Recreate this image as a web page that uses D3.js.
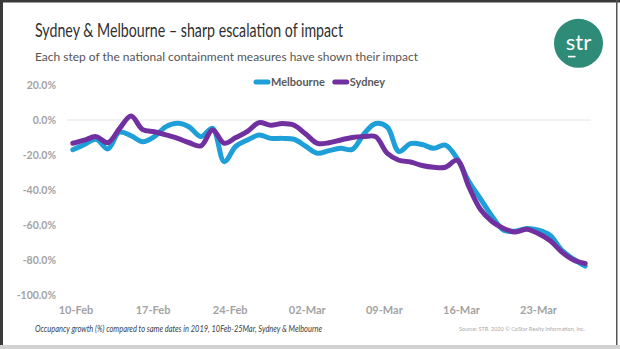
<!DOCTYPE html>
<html>
<head>
<meta charset="utf-8">
<script src="https://cdnjs.cloudflare.com/ajax/libs/d3/7.8.5/d3.min.js"></script>
<style>
    html, body { margin: 0; padding: 0; background: #fff; }
    svg { display: block; font-family: Lato, 'Noto Sans', sans-serif; }
</style>
</head>
<body>
<svg id="chart"></svg>
<script>

// occupancy growth vs same day 2019, daily from 10-Feb to 25-Mar
var melbourne = [-17, -14, -11, -16.5, -7, -9, -12.4, -9.5, -3.8, -1.9, -4, -9.5, -4.8, -23.8, -15,
    -11.4, -8.6, -10.5, -10.5, -11, -15, -19, -17.5, -16.2, -16.8, -8, -2, -4, -18, -13.5,
    -14, -16.2, -14.3, -22, -35, -45, -55, -63, -63.5, -62, -63, -66, -74.5, -79.5, -83.5];

var sydney = [-13.3, -11.5, -9.5, -13, -5, 2.3, -5.5, -6.7, -8.5, -10.5, -13, -14.8, -5.7, -13.3, -10,
    -6.5, -1.5, -3, -2, -3, -8, -13.3, -13, -11.4, -10, -9.5, -9.5, -19, -23, -24,
    -26, -27, -27, -23, -38, -51, -58, -62, -64, -62.5, -65, -69, -75.5, -80, -82];

var seriesNames = ['Melbourne', 'Sydney'];
var seriesColors = ['#1e9fd8', '#7030a0'];
var yTicks = [20, 0, -20, -40, -60, -80, -100];
var xTickLabels = ['10-Feb', '17-Feb', '24-Feb', '02-Mar', '09-Mar', '16-Mar', '23-Mar'];

var title = 'Sydney & Melbourne \u2013 sharp escalation of impact';
var subtitle = 'Each step of the national containment measures have shown their impact';
var footnote = 'Occupancy growth (%) compared to same dates in 2019, 10Feb-25Mar, Sydney & Melbourne';
var source = 'Source: STR. 2020 \u00a9 CoStar Realty Information, Inc.';

function occupancyChart() {

    var _width = 620,
        _height = 349;

    var margin = {
        top: 85,
        right: 29,
        bottom: 54,
        left: 67
    };

    var x, xLabel, y;

    var fitText = function (sel, width) {
        sel.attr('textLength', width)
            .attr('lengthAdjust', 'spacingAndGlyphs');
    }

    function chart(selection) {
        selection.each(function (series) {
            var svg = d3.select(this)
                .attr('width', _width)
                .attr('height', _height);

            var plotWidth = _width - margin.left - margin.right,
                plotHeight = _height - margin.top - margin.bottom;

            // slide frame
            svg.append('rect')
                .attr('width', _width)
                .attr('height', _height)
                .style('fill', '#fff');
            svg.append('rect')
                .attr('width', 3).attr('height', _height)
                .style('fill', '#3a3a3a');
            svg.append('rect')
                .attr('width', _width).attr('height', 2.5)
                .style('fill', '#3a3a3a');
            svg.append('rect')
                .attr('x', 616).attr('width', 1.5).attr('height', _height)
                .style('fill', '#555');
            svg.append('rect')
                .attr('y', 345).attr('width', _width).attr('height', 4)
                .style('fill', '#d2d2d2');

            // heading
            svg.append('text')
                .attr('x', 35).attr('y', 37)
                .style('font-size', '18.5px')
                .style('fill', '#303030')
                .text(title)
                .call(fitText, 308);

            svg.append('text')
                .attr('x', 35).attr('y', 61)
                .style('font-size', '12px')
                .style('fill', '#555')
                .text(subtitle)
                .call(fitText, 383);

            // str badge
            var logo = svg.append('g')
                .attr('transform', 'translate(578.5,43.3)');
            logo.append('circle')
                .attr('r', 24.5)
                .style('fill', '#2d8b78');
            logo.append('text')
                .attr('y', 7)
                .attr('text-anchor', 'middle')
                .style('font-size', '22px')
                .style('fill', '#fff')
                .text('str');
            logo.append('rect')
                .attr('x', -10.5).attr('y', 12.5)
                .attr('width', 7.5).attr('height', 1.6)
                .style('fill', '#fff');

            // one point per day for the lines
            x = d3.scalePoint()
                .domain(d3.range(series[0].values.length))
                .range([0, plotWidth])
                .padding(0.5);

            // weekly category labels sit on their own band
            xLabel = d3.scalePoint()
                .domain(xTickLabels)
                .range([8.5, 471]);

            y = d3.scaleLinear()
                .domain([-100, 20])
                .range([plotHeight, 0]);

            var container = svg.append('g')
                .attr('class', 'plot')
                .attr('transform', 'translate(' + margin.left + ',' + margin.top + ')');

            container.append('line')
                .attr('class', 'zero')
                .attr('x1', 0).attr('x2', plotWidth)
                .attr('y1', y(0)).attr('y2', y(0))
                .style('stroke', '#e4e4e4')
                .style('stroke-width', 1);

            var yAxis = d3.axisLeft(y)
                .tickValues(yTicks)
                .tickSize(0)
                .tickPadding(11)
                .tickFormat(function (d) {
                    return d.toFixed(1) + '%';
                });

            var xAxis = d3.axisBottom(xLabel)
                .tickSize(0)
                .tickPadding(11);

            container.append('g')
                .attr('class', 'y axis')
                .call(yAxis);

            container.append('g')
                .attr('class', 'x axis')
                .attr('transform', 'translate(0,' + plotHeight + ')')
                .call(xAxis);

            container.selectAll('.axis .domain').remove();
            container.selectAll('.axis text')
                .style('font-family', 'Lato, sans-serif')
                .style('font-size', '10.5px')
                .style('font-weight', 'bold')
                .style('fill', '#a3a3a3');
            container.selectAll('.x.axis text')
                .style('font-size', '11px');

            var line = d3.line()
                .x(function (d, i) { return x(i); })
                .y(function (d) { return y(d); })
                .curve(d3.curveCatmullRom.alpha(0.5));

            container.selectAll('.series')
                .data(series)
                .enter().append('path')
                .attr('class', 'series')
                .attr('d', function (d) { return line(d.values); })
                .style('fill', 'none')
                .style('stroke', function (d) { return d.color; })
                .style('stroke-width', 5)
                .style('stroke-linecap', 'round')
                .style('stroke-linejoin', 'round');

            // legend across the top of the plot
            var legend = svg.append('g')
                .attr('class', 'legend')
                .attr('transform', 'translate(255,82)');

            var offset = 0;
            series.forEach(function (s) {
                var item = legend.append('g')
                    .attr('transform', 'translate(' + offset + ',0)');
                item.append('line')
                    .attr('x1', 1).attr('x2', 13)
                    .style('stroke', s.color)
                    .style('stroke-width', 5)
                    .style('stroke-linecap', 'round');
                var label = item.append('text')
                    .attr('x', 16).attr('y', 4)
                    .style('font-size', '11px')
                    .style('font-weight', 'bold')
                    .style('fill', '#595959')
                    .text(s.name);
                offset += 16 + label.node().getComputedTextLength() + 9;
            });

            // footnote and source line
            svg.append('text')
                .attr('x', 35).attr('y', 332)
                .style('font-size', '9px')
                .style('font-style', 'italic')
                .style('fill', '#404040')
                .text(footnote)
                .call(fitText, 287);

            svg.append('text')
                .attr('x', 459).attr('y', 331)
                .style('font-size', '5px')
                .style('fill', '#aaa')
                .text(source)
                .call(fitText, 126);
        });
    }

    chart.width = function (value) {
        if (!arguments.length) {
            return _width;
        }
        _width = value;
        return chart;
    }

    chart.height = function (value) {
        if (!arguments.length) {
            return _height;
        }
        _height = value;
        return chart;
    }

    return chart;
}

var seriesData = [
    { name: seriesNames[0], color: seriesColors[0], values: melbourne },
    { name: seriesNames[1], color: seriesColors[1], values: sydney }
];

d3.select('#chart')
    .datum(seriesData)
    .call(occupancyChart());

</script>
</body>
</html>
